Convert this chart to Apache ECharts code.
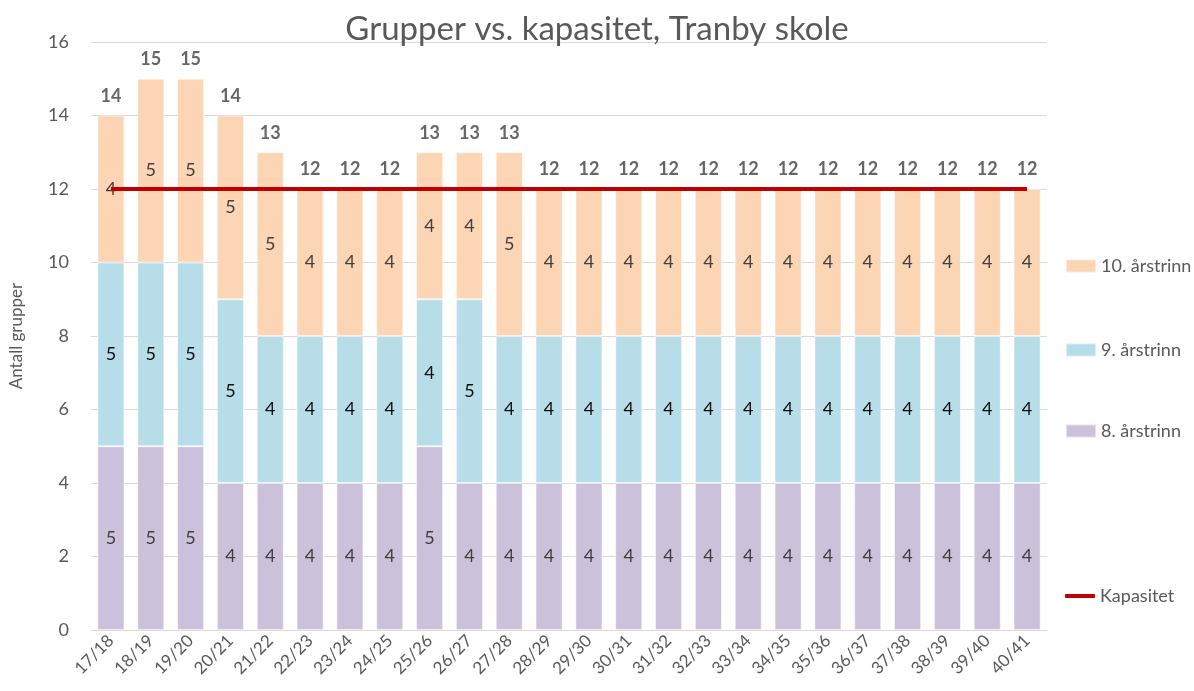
<!DOCTYPE html>
<html>
<head>
<meta charset="utf-8">
<script src="https://cdn.jsdelivr.net/npm/echarts@6/dist/echarts.min.js"></script>
<style>
  html, body { margin: 0; padding: 0; background: #fff; }
  #main { width: 1194px; height: 691px; }
</style>
</head>
<body>
<div id="main"></div>
<script>
var years = ['17/18', '18/19', '19/20', '20/21', '21/22', '22/23', '23/24', '24/25', '25/26', '26/27', '27/28', '28/29',
    '29/30', '30/31', '31/32', '32/33', '33/34', '34/35', '35/36', '36/37', '37/38', '38/39', '39/40', '40/41'];
var trinn8 = [5, 5, 5, 4, 4, 4, 4, 4, 5, 4, 4, 4, 4, 4, 4, 4, 4, 4, 4, 4, 4, 4, 4, 4];
var trinn9 = [5, 5, 5, 5, 4, 4, 4, 4, 4, 5, 4, 4, 4, 4, 4, 4, 4, 4, 4, 4, 4, 4, 4, 4];
var trinn10 = [4, 5, 5, 5, 5, 4, 4, 4, 4, 4, 5, 4, 4, 4, 4, 4, 4, 4, 4, 4, 4, 4, 4, 4];
var totals = [14, 15, 15, 14, 13, 12, 12, 12, 13, 13, 13, 12, 12, 12, 12, 12, 12, 12, 12, 12, 12, 12, 12, 12];
var kapasitet = [12, 12, 12, 12, 12, 12, 12, 12, 12, 12, 12, 12, 12, 12, 12, 12, 12, 12, 12, 12, 12, 12, 12, 12];

var chartDom = document.getElementById('main');
var myChart = echarts.init(chartDom);
var font = 'Lato, "Open Sans", sans-serif';
var grey = '#595959';

function barSeries(name, data, color, labelColor) {
    return {
        name: name,
        type: 'bar',
        stack: 'grupper',
        data: data,
        barCategoryGap: '32%',
        itemStyle: { color: color, borderColor: 'rgba(255,255,255,0.5)', borderWidth: 1 },
        label: {
            show: true,
            position: 'inside',
            color: labelColor,
            fontSize: 18,
            fontFamily: font
        },
        emphasis: { disabled: true }
    };
}

function legendItem(name, top, icon, h) {
    return {
        data: [{ name: name, icon: icon }],
        left: 1060,
        top: top,
        itemWidth: 30,
        itemHeight: h,
        textStyle: { color: grey, fontSize: 18, fontFamily: font }
    };
}

var option = {
    animation: false,
    title: {
        text: 'Grupper vs. kapasitet, Tranby skole',
        left: 'center',
        top: 8,
        textStyle: { color: grey, fontSize: 33, fontWeight: 'normal', fontFamily: font }
    },
    legend: [
        legendItem('10. årstrinn', 252, 'rect', 13),
        legendItem('9. årstrinn', 336, 'rect', 13),
        legendItem('8. årstrinn', 417, 'rect', 13),
        legendItem('Kapasitet', 582, 'roundRect', 4)
    ],
    grid: { left: 91, right: 147, top: 42, bottom: 61 },
    xAxis: {
        type: 'category',
        data: years,
        axisLine: { lineStyle: { color: '#d9d9d9' } },
        axisTick: { show: false },
        axisLabel: { rotate: 45, color: grey, fontSize: 17, fontFamily: font, margin: 8 }
    },
    yAxis: {
        type: 'value',
        min: 0,
        max: 16,
        interval: 2,
        name: 'Antall grupper',
        nameLocation: 'middle',
        nameGap: 66,
        nameTextStyle: { color: grey, fontSize: 17, fontFamily: font },
        axisLine: { show: false },
        axisTick: { show: false },
        axisLabel: { color: grey, fontSize: 18, fontFamily: font, margin: 22 },
        splitLine: { lineStyle: { color: '#d9d9d9' } }
    },
    series: [
        barSeries('8. årstrinn', trinn8, '#ccc1da', '#404040'),
        barSeries('9. årstrinn', trinn9, '#b7dee8', '#0d0d0d'),
        barSeries('10. årstrinn', trinn10, '#fcd5b5', '#404040'),
        {
            name: 'Total',
            type: 'scatter',
            data: totals,
            symbolSize: 1,
            itemStyle: { color: 'rgba(0,0,0,0)' },
            label: {
                show: true,
                position: 'top',
                distance: 10,
                color: '#404040',
                fontSize: 18,
                fontWeight: 'bold',
                fontFamily: font
            },
            emphasis: { disabled: true },
            silent: true
        },
        {
            name: 'Kapasitet',
            type: 'line',
            data: kapasitet,
            symbol: 'none',
            lineStyle: { color: '#c00000', width: 4 },
            itemStyle: { color: '#c00000' },
            z: 5
        }
    ]
};

myChart.setOption(option);
</script>
</body>
</html>
